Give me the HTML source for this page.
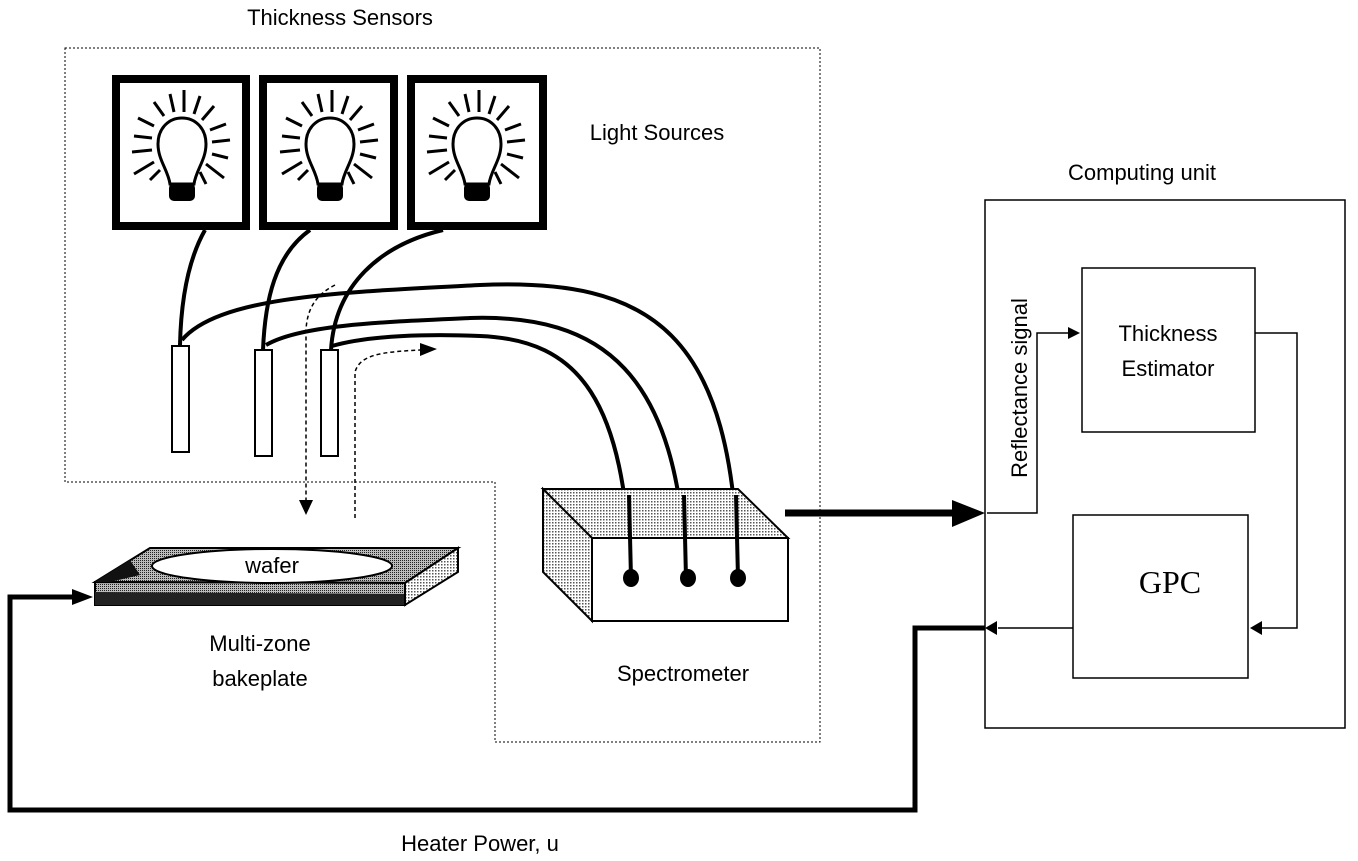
<!DOCTYPE html>
<html><head><meta charset="utf-8"><style>
html,body{margin:0;padding:0;background:#fff}
svg{display:block}
text{font-family:"Liberation Sans",sans-serif;fill:#000}
</style></head><body>
<svg width="1358" height="861" viewBox="0 0 1358 861" xmlns="http://www.w3.org/2000/svg">
<defs>
<pattern id="dots" width="3" height="3" patternUnits="userSpaceOnUse"><rect width="3" height="3" fill="#fff"/><rect width="1.5" height="1.5" fill="#555"/></pattern>
<pattern id="dots2" width="2" height="2" patternUnits="userSpaceOnUse"><rect width="2" height="2" fill="#bbb"/><rect width="1" height="1" fill="#222"/></pattern>
<g id="bulb">
<path d="M-12,32 C-14,18 -24,8 -24,-8 C-24,-24 -13,-34 0,-34 C13,-34 24,-24 24,-8 C24,8 14,18 12,32 Z" fill="#fff" stroke="#000" stroke-width="3"/>
<rect x="-13" y="31" width="26" height="18" rx="5" fill="#000"/>
<g stroke="#000" stroke-width="3">
<line x1="-28" y1="-26" x2="-44" y2="-34"/><line x1="-18" y1="-36" x2="-28" y2="-50"/><line x1="-8" y1="-40" x2="-12" y2="-58"/><line x1="2" y1="-40" x2="2" y2="-62"/><line x1="12" y1="-38" x2="18" y2="-56"/><line x1="20" y1="-32" x2="32" y2="-46"/><line x1="28" y1="-22" x2="44" y2="-28"/><line x1="30" y1="-10" x2="48" y2="-12"/><line x1="30" y1="2" x2="46" y2="6"/><line x1="24" y1="12" x2="42" y2="26"/><line x1="-30" y1="-14" x2="-48" y2="-16"/><line x1="-30" y1="-2" x2="-50" y2="0"/><line x1="-28" y1="10" x2="-48" y2="22"/><line x1="-22" y1="18" x2="-32" y2="28"/><line x1="18" y1="20" x2="24" y2="32"/>
</g>
</g>
</defs>

<!-- dotted sensor region -->
<path d="M65,48 H820 V742 H495 V482 H65 Z" fill="none" stroke="#000" stroke-width="1" stroke-dasharray="2,2"/>

<!-- bulb boxes -->
<rect x="116" y="79" width="130" height="147" fill="#fff" stroke="#000" stroke-width="8"/>
<rect x="263" y="79" width="131" height="147" fill="#fff" stroke="#000" stroke-width="8"/>
<rect x="411" y="79" width="132" height="147" fill="#fff" stroke="#000" stroke-width="8"/>
<use href="#bulb" x="182" y="152"/>
<use href="#bulb" x="330" y="152"/>
<use href="#bulb" x="477" y="152"/>

<!-- cables from bulbs to probes -->
<g fill="none" stroke="#000" stroke-width="4">
<path d="M205,230 C188,260 181,300 180,345"/>
<path d="M310,230 C275,255 265,300 263,350"/>
<path d="M443,230 C380,245 335,285 331,350"/>
<!-- probe to spectrometer -->
<path d="M182,340 C220,295 350,292 480,285 C650,278 735,330 738,578"/>
<path d="M266,345 C300,325 380,322 470,318 C600,314 680,370 686,578"/>
<path d="M332,346 C370,335 430,334 480,336 C580,340 625,400 631,578"/>
</g>

<!-- probes -->
<rect x="172" y="346" width="17" height="106" fill="#fff" stroke="#000" stroke-width="2"/>
<rect x="255" y="350" width="17" height="106" fill="#fff" stroke="#000" stroke-width="2"/>
<rect x="321" y="350" width="17" height="106" fill="#fff" stroke="#000" stroke-width="2"/>

<!-- dotted light path -->
<g fill="none" stroke="#000" stroke-width="1.5" stroke-dasharray="4,3">
<path d="M335,285 C315,295 307,310 306,330 L306,500"/>
<path d="M355,518 L355,372 C360,355 380,352 420,350"/>
</g>
<polygon points="299,500 313,500 306,515" fill="#000"/>
<polygon points="420,343 437,349 420,356" fill="#000"/>

<!-- bakeplate -->
<polygon points="95,582 150,548 458,548 405,583" fill="url(#dots2)" stroke="#000" stroke-width="2"/>
<polygon points="95,582 405,583 405,605 95,605" fill="url(#dots2)" stroke="#000" stroke-width="2"/>
<polygon points="95,592 405,594 405,605 95,605" fill="#222"/>
<polygon points="405,583 458,548 458,572 405,605" fill="url(#dots)" stroke="#000" stroke-width="2"/>
<polygon points="95,582 130,560 140,575 110,582" fill="#111"/>
<ellipse cx="272" cy="566" rx="120" ry="17" fill="#fff" stroke="#000" stroke-width="2"/>
<text x="272" y="573" font-size="22" text-anchor="middle">wafer</text>

<!-- spectrometer -->
<polygon points="543,489 738,489 788,538 592,538" fill="url(#dots)" stroke="#000" stroke-width="2"/>
<polygon points="543,489 592,538 592,621 543,572" fill="url(#dots)" stroke="#000" stroke-width="2"/>
<rect x="592" y="538" width="196" height="83" fill="#fff" stroke="#000" stroke-width="2"/>
<g fill="none" stroke="#000" stroke-width="4">
<path d="M629,495 L631,578"/><path d="M684,495 L686,578"/><path d="M736,495 L738,578"/>
</g>
<ellipse cx="631" cy="578" rx="8" ry="9" fill="#000"/>
<ellipse cx="688" cy="578" rx="8" ry="9" fill="#000"/>
<ellipse cx="738" cy="578" rx="8" ry="9" fill="#000"/>

<!-- thick arrow to computing unit -->
<line x1="785" y1="513" x2="955" y2="513" stroke="#000" stroke-width="7"/>
<polygon points="952,500 985,513 952,527" fill="#000"/>

<!-- computing unit -->
<rect x="985" y="200" width="360" height="528" fill="none" stroke="#000" stroke-width="1.5"/>
<rect x="1082" y="268" width="173" height="164" fill="#fff" stroke="#000" stroke-width="1.5"/>
<rect x="1073" y="515" width="175" height="163" fill="#fff" stroke="#000" stroke-width="1.5"/>
<g fill="none" stroke="#000" stroke-width="1.5">
<path d="M987,513 H1037 V333 H1070"/>
<path d="M1255,333 H1297 V628 H1260"/>
<path d="M1073,628 H998"/>
</g>
<polygon points="1068,327 1080,333 1068,339" fill="#000"/>
<polygon points="1262,621 1250,628 1262,635" fill="#000"/>
<polygon points="997,621 985,628 997,635" fill="#000"/>

<!-- heater power loop -->
<path d="M985,628 H915 V810 H10 V597 H75" fill="none" stroke="#000" stroke-width="5"/>
<polygon points="72,589 93,597 72,605" fill="#000"/>

<!-- labels -->
<text x="340" y="25" font-size="22" text-anchor="middle">Thickness Sensors</text>
<text x="657" y="140" font-size="22" text-anchor="middle">Light Sources</text>
<text x="1142" y="180" font-size="22" text-anchor="middle">Computing unit</text>
<text x="1168" y="341" font-size="22" text-anchor="middle">Thickness</text>
<text x="1168" y="376" font-size="22" text-anchor="middle">Estimator</text>
<text x="1170" y="593" font-size="32" text-anchor="middle" style="font-family:'Liberation Serif',serif">GPC</text>
<text transform="translate(1027,388) rotate(-90)" font-size="22" text-anchor="middle">Reflectance signal</text>
<text x="260" y="651" font-size="22" text-anchor="middle">Multi-zone</text>
<text x="260" y="686" font-size="22" text-anchor="middle">bakeplate</text>
<text x="683" y="681" font-size="22" text-anchor="middle">Spectrometer</text>
<text x="480" y="851" font-size="22" text-anchor="middle">Heater Power, u</text>
</svg>
</body></html>
